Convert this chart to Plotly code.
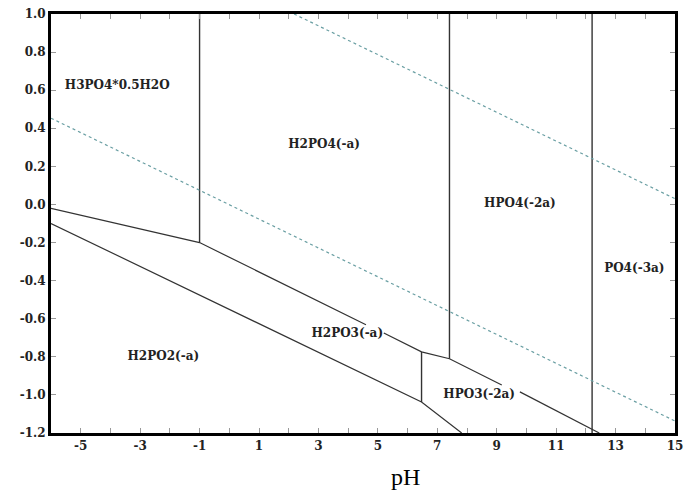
import plotly.graph_objects as go

# Boundary lines (pH, E)
upper_bound_x = [-6, -1, 4.6]
upper_bound_y = [-0.02, -0.2, -0.632]
upper_bound2_x = [5.2, 6.47, 7.41, 9.17]
upper_bound2_y = [-0.675, -0.774, -0.81, -0.948]
upper_bound3_x = [9.78, 12.45]
upper_bound3_y = [-0.984, -1.2]
lower_bound_x = [-6, 6.47, 7.82]
lower_bound_y = [-0.1, -1.037, -1.2]

vert_x = [-1, 7.41, 12.21, 6.47]
vert_top = [1.0, 1.0, 1.0, -0.774]
vert_bot = [-0.2, -0.81, -1.2, -1.037]

water_hi_x = [2.18, 15]
water_hi_y = [1.0, 0.03]
water_lo_x = [-6, 15]
water_lo_y = [0.453, -1.137]

labels = ["H3PO4*0.5H2O", "H2PO4(-a)", "HPO4(-2a)", "PO4(-3a)",
          "H2PO3(-a)", "HPO3(-2a)", "H2PO2(-a)"]
label_x = [-3.77, 3.19, 9.78, 13.63, 3.97, 8.41, -2.22]
label_y = [0.62, 0.31, 0.005, -0.337, -0.68, -1.0, -0.8]

x_ticks = [-5, -3, -1, 1, 3, 5, 7, 9, 11, 13, 15]
y_ticks = [1.0, 0.8, 0.6, 0.4, 0.2, 0.0, -0.2, -0.4, -0.6, -0.8, -1.0, -1.2]

fig = go.Figure()
solid = dict(color="#333333", width=1.2)
for xs, ys in [(upper_bound_x, upper_bound_y), (upper_bound2_x, upper_bound2_y),
               (upper_bound3_x, upper_bound3_y), (lower_bound_x, lower_bound_y)]:
    fig.add_trace(go.Scatter(x=xs, y=ys, mode="lines", line=solid, hoverinfo="skip"))
for vx, vt, vb in zip(vert_x, vert_top, vert_bot):
    fig.add_trace(go.Scatter(x=[vx, vx], y=[vt, vb], mode="lines",
                             line=dict(color="#333333", width=1.4), hoverinfo="skip"))
for xs, ys in [(water_hi_x, water_hi_y), (water_lo_x, water_lo_y)]:
    fig.add_trace(go.Scatter(x=xs, y=ys, mode="lines",
                             line=dict(color="#6a9fa3", width=1.2, dash="dot"), hoverinfo="skip"))

fig.add_trace(go.Scatter(x=label_x, y=label_y, mode="text", text=labels,
                         textfont=dict(family="DejaVu Serif", size=12, color="#222222",
                                       weight="bold"),
                         hoverinfo="skip"))

fig.update_layout(
    width=696, height=491,
    margin=dict(l=51, r=21, t=14, b=58),
    plot_bgcolor="white", paper_bgcolor="white",
    showlegend=False,
    font=dict(family="DejaVu Serif", color="black"),
)
fig.update_xaxes(
    range=[-6, 15], tickvals=x_ticks, ticktext=[str(v) for v in x_ticks],
    ticks="inside", ticklen=5, tickcolor="#999999", tickwidth=1,
    minor=dict(dtick=1, tick0=0, ticks="inside", ticklen=5, tickcolor="#999999"),
    showline=True, linecolor="black", linewidth=3, mirror="ticks",
    showgrid=False, zeroline=False, automargin=False,
    tickfont=dict(family="DejaVu Serif", size=12, color="#222222", weight="bold"),
)
fig.update_yaxes(
    range=[-1.2, 1.0], tickvals=y_ticks, ticktext=[f"{v:.1f}" for v in y_ticks],
    ticks="inside", ticklen=5, tickcolor="#999999", tickwidth=1,
    showline=True, linecolor="black", linewidth=3, mirror="ticks",
    showgrid=False, zeroline=False, automargin=False,
    tickfont=dict(family="DejaVu Serif", size=12, color="#222222", weight="bold"),
)
fig.add_annotation(text="pH", x=5.93, xref="x", y=-0.105, yref="paper",
                   yanchor="middle", showarrow=False,
                   font=dict(family="Liberation Serif", size=24, color="black"))
fig.write_html("out.html", config={"displayModeBar": False},
               post_script="document.body.style.margin='0';document.body.style.overflow='hidden';")
